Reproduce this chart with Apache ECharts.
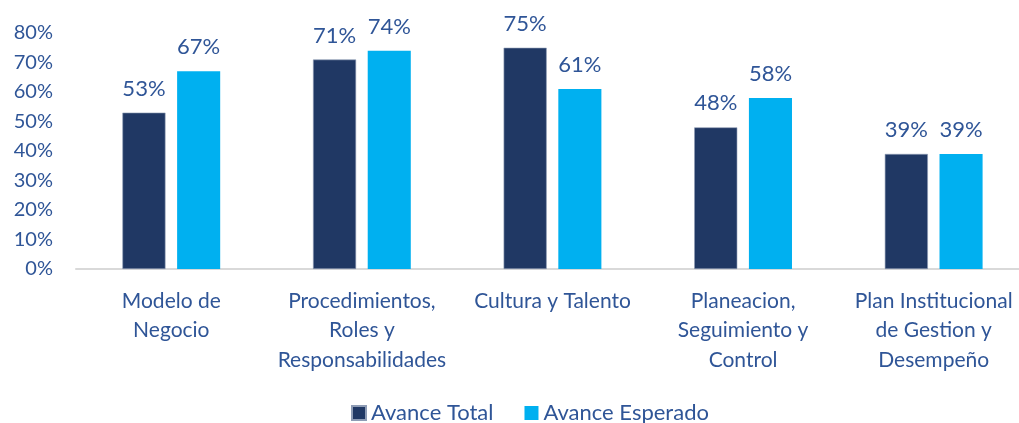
<!DOCTYPE html>
<html>
<head>
<meta charset="utf-8">
<script src="https://cdn.jsdelivr.net/npm/echarts@6/dist/echarts.min.js"></script>
<style>
  html, body { margin: 0; padding: 0; background: #fff; }
  #chart { width: 1019px; height: 423px; }
</style>
</head>
<body>
<div id="chart"></div>
<script>
var categories = ['Modelo de\nNegocio', 'Procedimientos,\nRoles y\nResponsabilidades', 'Cultura y Talento', 'Planeacion,\nSeguimiento y\nControl', 'Plan Institucional\nde Gestion y\nDesempeño'];
var avanceTotal = [53, 71, 75, 48, 39];
var avanceEsperado = [67, 74, 61, 58, 39];
var yTicks = [0, 10, 20, 30, 40, 50, 60, 70, 80];

var textColor = '#2F5597';
var font = 'Lato';

var chart = echarts.init(document.getElementById('chart'));

var option = {
    animation: false,
    textStyle: { fontFamily: font },
    legend: {
        data: ['Avance Total', 'Avance Esperado'],
        top: 397,
        left: 346,
        itemWidth: 14,
        itemHeight: 14,
        itemGap: 31,
        icon: 'rect',
        textStyle: { color: textColor, fontSize: 22, fontFamily: font }
    },
    grid: {
        left: 76,
        width: 953,
        top: 33,
        bottom: 154,
        containLabel: false,
        outerBoundsMode: 'none'
    },
    xAxis: {
        type: 'category',
        data: categories,
        axisLine: { lineStyle: { color: '#D9D9D9', width: 2 } },
        axisTick: { show: false },
        axisLabel: {
            color: textColor,
            fontSize: 21,
            lineHeight: 29.5,
            margin: 17,
            interval: 0,
            fontFamily: font
        }
    },
    yAxis: {
        type: 'value',
        min: yTicks[0],
        max: yTicks[yTicks.length - 1],
        interval: 10,
        splitLine: { show: false },
        axisLine: { show: false },
        axisTick: { show: false },
        axisLabel: {
            formatter: '{value}%',
            color: textColor,
            fontSize: 20,
            margin: 23,
            fontFamily: font
        }
    },
    series: [
        {
            name: 'Avance Total',
            type: 'bar',
            data: avanceTotal,
            barWidth: '22.6%',
            barGap: '27%',
            itemStyle: { color: '#203864', borderColor: '#8E9CB5', borderWidth: 0.6 },
            label: {
                show: true,
                position: 'top',
                distance: 13,
                formatter: '{c}%',
                color: textColor,
                fontSize: 22,
                fontFamily: font
            }
        },
        {
            name: 'Avance Esperado',
            type: 'bar',
            data: avanceEsperado,
            barWidth: '22.6%',
            barGap: '27%',
            itemStyle: { color: '#00B0F0' },
            label: {
                show: true,
                position: 'top',
                distance: 13,
                formatter: '{c}%',
                color: textColor,
                fontSize: 22,
                fontFamily: font
            }
        }
    ]
};

chart.setOption(option);
</script>
</body>
</html>
